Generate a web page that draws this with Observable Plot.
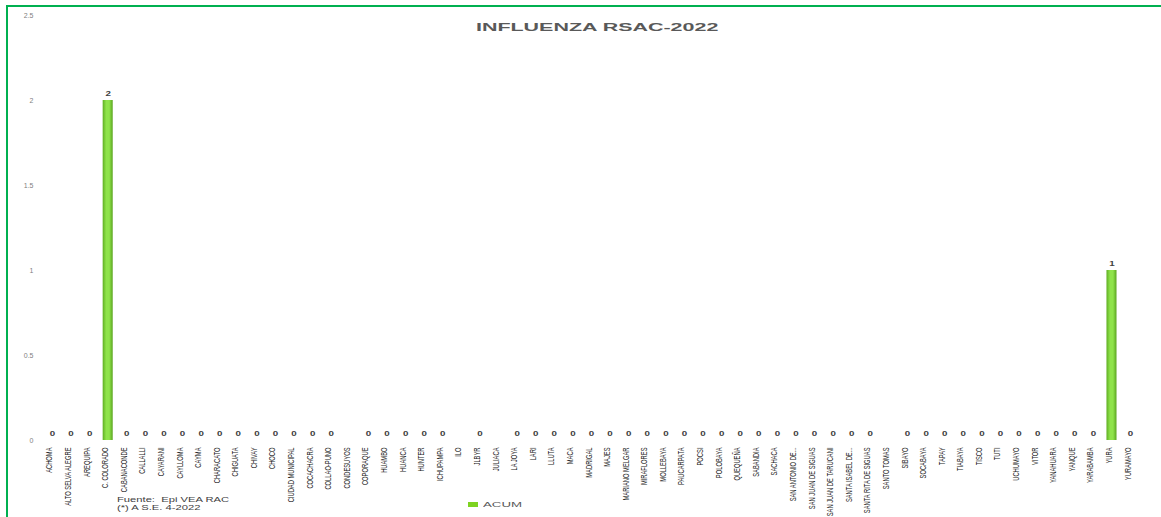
<!DOCTYPE html>
<html>
<head>
<meta charset="utf-8">
<script src="https://cdn.jsdelivr.net/npm/d3@7"></script>
<script src="https://cdn.jsdelivr.net/npm/@observablehq/plot@0.6"></script>
<style>
  html, body { margin: 0; padding: 0; background: #fff; }
  #wrap { position: relative; width: 1161px; height: 517px; overflow: hidden; font-family: "Liberation Sans", Arial, sans-serif; }
  #frame { position: absolute; left: 6px; top: 5px; width: 1200px; height: 600px; border-left: 2px solid #00b050; border-top: 2px solid #00b050; box-sizing: border-box; }
  #title { position: absolute; left: 0; width: 1194px; top: 20px; text-align: center; line-height: 11px; }
  #title span { display: inline-block; font-weight: bold; font-size: 11px; color: #595959; transform: scaleX(1.95); transform-origin: center; }
  #foot { position: absolute; left: 117px; top: 496px; font-size: 7px; line-height: 8px; color: #404040; transform: scaleX(1.6); transform-origin: left; white-space: nowrap; }
  #legsw { position: absolute; left: 468px; top: 502px; width: 10px; height: 5px; background: #7ed321; }
  #legtx { position: absolute; left: 483px; top: 501px; font-size: 7px; line-height: 8px; color: #595959; transform: scaleX(1.9); transform-origin: left; }
  #chart { position: absolute; left: 0; top: 0; }
</style>
</head>
<body>
<div id="wrap">
  <div id="chart"></div>
  <div id="frame"></div>
  <div id="title"><span>INFLUENZA RSAC-2022</span></div>
  <div id="foot">Fuente:&nbsp; Epi VEA RAC<br>(*) A S.E. 4-2022</div>
  <div id="legsw"></div>
  <div id="legtx">ACUM</div>
</div>
<script>
const categories = [
  "ACHOMA", "ALTO SELVA ALEGRE", "AREQUIPA", "C. COLORADO", "CABANACONDE", "CALLALLI",
  "CAYARANI", "CAYLLOMA", "CAYMA", "CHARACATO", "CHIGUATA", "CHIVAY", "CHOCO",
  "CIUDAD MUNICIPAL", "COCACHACRA", "COLLAO-PUNO", "CONDESUYOS", "COPORAQUE", "HUAMBO",
  "HUANCA", "HUNTER", "ICHUPAMPA", "ILO", "JLBYR", "JULIACA", "LA JOYA", "LARI", "LLUTA",
  "MACA", "MADRIGAL", "MAJES", "MARIANO MELGAR", "MIRAFLORES", "MOLLEBAYA", "PAUCARPATA",
  "POCSI", "POLOBAYA", "QUEQUEÑA", "SABANDIA", "SACHACA", "SAN ANTONIO DE...",
  "SAN JUAN DE SIGUAS", "SAN JUAN DE TARUCANI", "SANTA ISABEL DE...", "SANTA RITA DE SIGUAS",
  "SANTO TOMAS", "SIBAYO", "SOCABAYA", "TAPAY", "TIABAYA", "TISCO", "TUTI", "UCHUMAYO",
  "VITOR", "YANAHUARA", "YANQUE", "YARABAMBA", "YURA", "YURAMAYO"
];
const acum = [
  0, 0, 0, 2, 0, 0,
  0, 0, 0, 0, 0, 0, 0,
  0, 0, 0, null, 0, 0,
  0, 0, 0, null, 0, null, 0, 0, 0,
  0, 0, 0, 0, 0, 0, 0,
  0, 0, 0, 0, 0, 0,
  0, 0, 0, 0,
  null, 0, 0, 0, 0, 0, 0, 0,
  0, 0, 0, 0, 1, 0
];
const yTicks = [0, 0.5, 1, 1.5, 2, 2.5];

const data = categories.map((c, i) => ({name: c, value: acum[i]}));
const withVal = data.filter(d => d.value !== null);

const gradient = () => {
  const ns = "http://www.w3.org/2000/svg";
  const defs = document.createElementNS(ns, "defs");
  const lg = document.createElementNS(ns, "linearGradient");
  lg.setAttribute("id", "barGrad");
  lg.setAttribute("x1", "0"); lg.setAttribute("x2", "1");
  lg.setAttribute("y1", "0"); lg.setAttribute("y2", "0");
  [["0%", "#5fae22"], ["35%", "#8fe34a"], ["65%", "#8fe34a"], ["100%", "#5aa51f"]].forEach(([o, c]) => {
    const s = document.createElementNS(ns, "stop");
    s.setAttribute("offset", o); s.setAttribute("stop-color", c);
    lg.appendChild(s);
  });
  defs.appendChild(lg);
  return defs;
};

const chart = Plot.plot({
  width: 1161,
  height: 517,
  marginLeft: 43,
  marginRight: 22,
  marginTop: 15,
  marginBottom: 77,
  style: {fontFamily: "Liberation Sans, Arial, sans-serif", background: "transparent"},
  x: {domain: categories, paddingInner: 0.46, paddingOuter: 0.21, label: null, axis: null},
  y: {domain: [0, 2.5], label: null},
  marks: [
    gradient,
    Plot.gridY(yTicks, {stroke: "#d9d9d9", strokeOpacity: 1, x1: 42, x2: 1141}),
    Plot.axisY(yTicks, {tickSize: 0, tickPadding: 10, fontSize: 7, fill: "#7f7f7f", tickFormat: d => String(d), label: null}),
    Plot.text(categories, {x: d => d, frameAnchor: "bottom", dy: 7, rotate: -90, textAnchor: "end",
      fontSize: 8.5, fill: "#1a1a1a"}),
    Plot.barY(withVal, {x: "name", y: "value", fill: "url(#barGrad)"}),
    Plot.text(withVal, {x: "name", y: "value", text: d => String(d.value), dy: -7, fontSize: 6.5, fontWeight: "bold", fill: "#404040"})
  ]
});
document.getElementById("chart").appendChild(chart);

// compress rotated category labels along their length; widen value labels (via textLength)
const catSet = new Set(categories);
chart.querySelectorAll("text").forEach(t => {
  const tr = t.getAttribute("transform") || "";
  const s = t.textContent;
  let k = null;
  if (catSet.has(s) && tr.includes("rotate")) k = 0.68;
  else if (/^[0-9]$/.test(s) && t.closest('[font-weight="bold"]')) k = 1.5;
  if (k !== null) {
    const L = t.getComputedTextLength();
    if (L > 0) {
      t.setAttribute("textLength", (L * k).toFixed(2));
      t.setAttribute("lengthAdjust", "spacingAndGlyphs");
    }
  }
});
</script>
</body>
</html>
